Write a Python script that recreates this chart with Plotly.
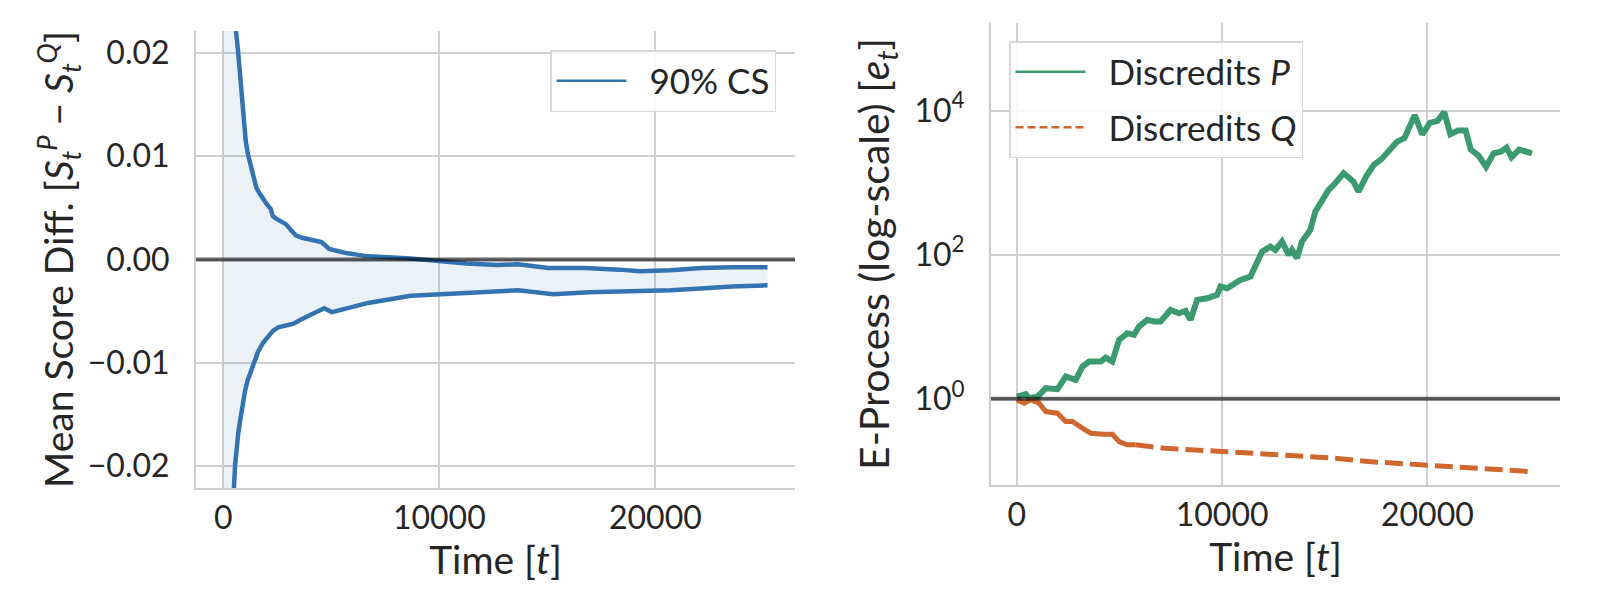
import plotly.graph_objects as go

# ---------------- Left panel: 90% confidence sequence ----------------
cs_upper_t = [0, 590, 680, 780, 860, 943, 1040, 1132, 1220, 1320, 1420, 1533, 1680, 1840,
              2000, 2193, 2300, 2429, 2650, 2900, 3150, 3373, 3650, 3962, 4300, 4552,
              4906, 5250, 5613, 6557, 7972, 8680, 10094, 11274, 12689, 13632, 15047,
              16698, 18349, 19292, 20708, 22123, 23538, 25189]
cs_upper = [0.5, 0.0221, 0.0203, 0.01804, 0.0155, 0.01323, 0.0115, 0.01027, 0.0095,
            0.00879, 0.0078, 0.00694, 0.0064, 0.00583, 0.0054, 0.0049, 0.0042, 0.00398,
            0.0037, 0.00342, 0.0028, 0.00231, 0.0021, 0.00194, 0.0018, 0.00168, 0.00102,
            0.0008, 0.00065, 0.00035, 0.0002, 0.00009, -0.00017, -0.00039, -0.00054,
            -0.00046, -0.00083, -0.00083, -0.00098, -0.00113, -0.00105, -0.00083,
            -0.00076, -0.00076]

cs_lower_t = [0, 495, 550, 613, 690, 778, 890, 1014, 1130, 1250, 1420, 1604, 1830, 2075,
              2300, 2547, 2900, 3255, 3600, 3962, 4300, 4670, 5024, 5500, 6085, 6700,
              7264, 8000, 8679, 10094, 11509, 13632, 15283, 16934, 19292, 20708, 22123,
              23538, 25189]
cs_lower = [-0.5, -0.0221, -0.0199, -0.01822, -0.0169, -0.01563, -0.0139, -0.01267,
            -0.0117, -0.011, -0.0099, -0.00897, -0.0081, -0.00749, -0.0069, -0.00657,
            -0.0064, -0.0062, -0.0058, -0.00546, -0.0051, -0.00472, -0.00509, -0.0048,
            -0.00453, -0.0042, -0.00398, -0.0037, -0.0035, -0.00335, -0.00324, -0.00298,
            -0.00335, -0.00316, -0.00305, -0.00298, -0.0028, -0.00261, -0.0025]

# ---------------- Right panel: e-processes (log10 of e_t) ----------------
p_t = [0, 438, 600, 1005, 1410, 1977, 2382, 2869, 3193, 3517, 4084, 4327, 4651, 4976,
       5381, 5705, 5948, 6353, 6677, 7002, 7488, 7893, 8217, 8460, 8784, 9271, 9757,
       9919, 10243, 10567, 10892, 11378, 11621, 11945, 12350, 12593, 12917, 13241,
       13403, 13646, 13890, 14295, 14538, 14862, 15186, 15511, 15916, 16402, 16646,
       17019, 17391, 17764, 18137, 18509, 18882, 19379, 19752, 20124, 20497, 20820,
       21118, 21491, 21863, 22112, 22484, 22857, 23230, 23602, 23851, 24099, 24472,
       24845, 25093]
p_log10 = [0.03, 0.065, 0.01, 0.03, 0.148, 0.134, 0.31, 0.264, 0.448, 0.518, 0.518,
           0.573, 0.518, 0.818, 0.911, 0.888, 1.003, 1.096, 1.073, 1.073, 1.234, 1.188,
           1.22, 1.096, 1.373, 1.396, 1.442, 1.558, 1.535, 1.604, 1.65, 1.697, 1.858,
           2.043, 2.113, 2.067, 2.182, 1.997, 2.067, 1.951, 2.182, 2.344, 2.598, 2.76,
           2.899, 2.991, 3.13, 3.014, 2.875, 3.088, 3.247, 3.326, 3.459, 3.565, 3.618,
           3.936, 3.671, 3.83, 3.857, 3.979, 3.671, 3.724, 3.724, 3.459, 3.379, 3.22,
           3.406, 3.432, 3.485, 3.353, 3.459, 3.432, 3.406]

q_t = [0, 357, 681, 1086, 1410, 1977, 2382, 2707, 3193, 3598, 4246, 4651, 4976, 5381,
       5786, 7205, 10000, 13322, 15429, 17143, 19627, 22112, 24969]
q_log10 = [-0.014, -0.06, -0.014, -0.06, -0.176, -0.199, -0.314, -0.314, -0.407, -0.476,
           -0.49, -0.49, -0.592, -0.638, -0.638, -0.685, -0.73, -0.777, -0.823, -0.87,
           -0.918, -0.96, -1.008]
q_split = 14  # index where the smooth (dashed-looking) part begins

x_ticks = [0, 10000, 20000]
x_ticktext = ["0", "10000", "20000"]
y1_ticks = [-0.02, -0.01, 0.0, 0.01, 0.02]
y1_ticktext = ["\u22120.02", "\u22120.01", "0.00", "0.01", "0.02"]
y2_ticks = [1, 100, 10000]
y2_ticktext = ["10<sup>0</sup>", "10<sup>2</sup>", "10<sup>4</sup>"]

BLUE = "#3373b1"
GREEN = "#3c9a70"
ORANGE = "#d0672e"
FONT = "Lato"
TXT = "#262626"
TICK_SIZE = 32
TITLE_SIZE = 39
LEG_SIZE = 35
GAP = "&nbsp;&nbsp;"

p_vals = [10 ** v for v in p_log10]
q_vals = [10 ** v for v in q_log10]

fig = go.Figure()

# CS band
fig.add_trace(go.Scatter(x=cs_lower_t, y=cs_lower, mode="lines",
                         line=dict(color=BLUE, width=4.5), showlegend=False,
                         xaxis="x", yaxis="y"))
fig.add_trace(go.Scatter(x=cs_upper_t, y=cs_upper, mode="lines",
                         line=dict(color=BLUE, width=4.5), fill="tonexty",
                         fillcolor="rgba(51,115,177,0.1)", showlegend=False,
                         xaxis="x", yaxis="y"))
fig.add_trace(go.Scatter(x=[None], y=[None], mode="lines", name=GAP + "90% CS",
                         line=dict(color=BLUE, width=2.5), legend="legend",
                         xaxis="x", yaxis="y"))

# E-processes
fig.add_trace(go.Scatter(x=p_t, y=p_vals, mode="lines",
                         line=dict(color=GREEN, width=6), showlegend=False,
                         xaxis="x2", yaxis="y2"))
fig.add_trace(go.Scatter(x=q_t[:q_split + 1], y=q_vals[:q_split + 1], mode="lines",
                         line=dict(color=ORANGE, width=5), showlegend=False,
                         xaxis="x2", yaxis="y2"))
fig.add_trace(go.Scatter(x=q_t[q_split:], y=q_vals[q_split:], mode="lines",
                         line=dict(color=ORANGE, width=5, dash="18px,7px"),
                         showlegend=False, xaxis="x2", yaxis="y2"))
fig.add_trace(go.Scatter(x=[None], y=[None], mode="lines", name=GAP + "Discredits <i>P</i>",
                         line=dict(color=GREEN, width=2.5), legend="legend2",
                         legendgroup="p", xaxis="x2", yaxis="y2"))
fig.add_trace(go.Scatter(x=[None], y=[None], mode="lines", name=GAP + "Discredits <i>Q</i>",
                         line=dict(color=ORANGE, width=2.5, dash="8px,4px"),
                         legend="legend2", legendgroup="q", xaxis="x2", yaxis="y2"))

# reference lines
fig.add_shape(type="line", xref="x domain", yref="y", x0=0, x1=1, y0=0, y1=0,
              line=dict(color="rgba(0,0,0,0.6)", width=4), layer="above")
fig.add_shape(type="line", xref="x2 domain", yref="y2", x0=0, x1=1, y0=1, y1=1,
              line=dict(color="rgba(0,0,0,0.6)", width=4), layer="above")

axis_common = dict(showgrid=True, gridcolor="#d0d0d0", gridwidth=1.6,
                   showline=True, linecolor="#cccccc", linewidth=2,
                   ticks="", zeroline=False,
                   tickfont=dict(family=FONT, size=TICK_SIZE, color=TXT))
title_font = dict(family=FONT, size=TITLE_SIZE, color=TXT)

fig.update_layout(
    width=1600, height=600,
    margin=dict(l=0, r=0, t=0, b=0),
    paper_bgcolor="white", plot_bgcolor="white",
    font=dict(family=FONT, color=TXT),
    xaxis=dict(domain=[188 / 1600, 787 / 1600], anchor="y",
               range=[-1260, 26460], tickvals=x_ticks, ticktext=x_ticktext,
               ticklabelstandoff=1,
               title=dict(text="Time [<i>t</i>]", font=title_font, standoff=4),
               **axis_common),
    yaxis=dict(domain=[1 - 480 / 600, 1 - 23 / 600], anchor="x",
               range=[-0.0221, 0.0221], tickvals=y1_ticks, ticktext=y1_ticktext,
               ticklabelstandoff=18,
               title=dict(text="Mean Score Diff. [<i>S</i><sub><i>t</i></sub><sup><i>P</i></sup> \u2212 <i>S</i><sub><i>t</i></sub><sup><i>Q</i></sup>]",
                          font=title_font, standoff=2),
               **axis_common),
    xaxis2=dict(domain=[983 / 1600, 1552 / 1600], anchor="y2",
                range=[-1260, 26460], tickvals=x_ticks, ticktext=x_ticktext,
                ticklabelstandoff=1,
                title=dict(text="Time [<i>t</i>]", font=title_font, standoff=4),
                **axis_common),
    yaxis2=dict(domain=[1 - 477 / 600, 1 - 15 / 600], anchor="x2", type="log",
                range=[-1.195, 5.215], tickvals=y2_ticks, ticktext=y2_ticktext,
                ticklabelstandoff=18,
                title=dict(text="E-Process (log-scale) [<i>e</i><sub><i>t</i></sub>]",
                           font=dict(family=FONT, size=41, color=TXT), standoff=12),
                **axis_common),
    legend=dict(x=768 / 1600, y=1 - 42 / 600, xanchor="right", yanchor="top",
                bgcolor="rgba(255,255,255,0.85)", bordercolor="#d8d8d8", borderwidth=1.5,
                font=dict(family=FONT, size=LEG_SIZE, color=TXT), itemwidth=70),
    legend2=dict(x=1001 / 1600, y=1 - 33 / 600, xanchor="left", yanchor="top",
                 bgcolor="rgba(255,255,255,0.85)", bordercolor="#d8d8d8", borderwidth=1.5,
                 font=dict(family=FONT, size=LEG_SIZE, color=TXT), itemwidth=70,
                 tracegroupgap=7),
)

fig.write_html("out.html")
